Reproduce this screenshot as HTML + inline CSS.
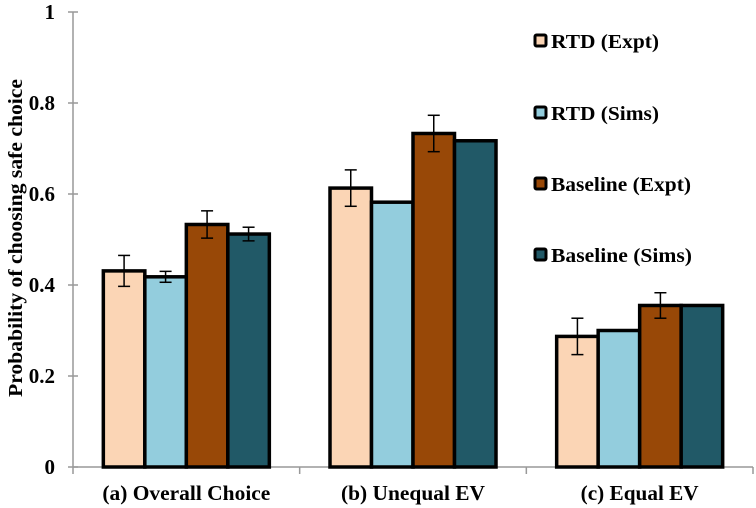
<!DOCTYPE html>
<html><head><meta charset="utf-8"><style>
html,body{margin:0;padding:0;background:#fff;}
svg{display:block;font-family:"Liberation Serif",serif;font-weight:bold;}
</style></head><body>
<svg id="chart" width="756" height="508"></svg>
<script>
const categories=["(a) Overall Choice","(b) Unequal EV","(c) Equal EV"];
const seriesNames=["RTD (Expt)","RTD (Sims)","Baseline (Expt)","Baseline (Sims)"];
const rtdExpt=[0.431,0.613,0.287];
const rtdSims=[0.418,0.582,0.300];
const baseExpt=[0.533,0.733,0.355];
const baseSims=[0.512,0.717,0.355];
const rtdExptErr=[0.034,0.04,0.04];
const rtdSimsErr=[0.012,0,0];
const baseExptErr=[0.03,0.04,0.028];
const baseSimsErr=[0.015,0,0];
const yTicks=[0,0.2,0.4,0.6,0.8,1];
const yTickLabels=["0","0.2","0.4","0.6","0.8","1"];

const colors=["#FBD5B5","#93CDDD","#984807","#215967"];
const series=[rtdExpt,rtdSims,baseExpt,baseSims];
const errs=[rtdExptErr,rtdSimsErr,baseExptErr,baseSimsErr];
const svg=document.getElementById('chart');
const NS="http://www.w3.org/2000/svg";
const x0=73,x1=753,y0=467,y1=12;
const yS=v=>y0-(y0-y1)*v;
const gw=(x1-x0)/categories.length, bw=41.5;
function mk(t,a,p){const e=document.createElementNS(NS,t);for(const k in a)e.setAttribute(k,a[k]);(p||svg).appendChild(e);return e;}

let ax=mk('line',{x1:x0,y1:y1,x2:x0,y2:y0,stroke:'#999','stroke-width':1.5});


let bx=mk('line',{x1:x0,y1:y0,x2:x1,y2:y0,stroke:'#999','stroke-width':1.5});


yTicks.forEach((v,i)=>{
  mk('line',{x1:x0-5,y1:yS(v),x2:x0+5,y2:yS(v),stroke:'#999','stroke-width':1.5});
  const t=mk('text',{x:55,y:yS(v)+7,'text-anchor':'end','font-size':21});
  t.textContent=yTickLabels[i];
  
  
});
for(let i=0;i<=categories.length;i++){
  mk('line',{x1:x0+gw*i,y1:y0,x2:x0+gw*i,y2:y0+7,stroke:'#999','stroke-width':1.5});
}
const yt=mk('text',{x:0,y:0,transform:'translate(22,238) rotate(-90)','text-anchor':'middle','font-size':20,textLength:318,lengthAdjust:'spacingAndGlyphs'});
yt.textContent="Probability of choosing safe choice";



const labelW=[168,144,118];
categories.forEach((c,ci)=>{
  const gx=x0+gw*ci+(gw-4*bw)/2;
  series.forEach((s,si)=>{
    const x=gx+si*bw, y=yS(s[ci]);
    const r=mk('rect',{x:x,y:y,width:bw,height:y0-y,fill:colors[si],stroke:'#000','stroke-width':3.5});
    
    
    const e=errs[si][ci];
    if(e>0){
      const cx=x+bw/2;
      mk('line',{x1:cx,y1:yS(s[ci]+e),x2:cx,y2:yS(s[ci]-e),stroke:'#000','stroke-width':1.5});
      mk('line',{x1:cx-6,y1:yS(s[ci]+e),x2:cx+6,y2:yS(s[ci]+e),stroke:'#000','stroke-width':1.5});
      mk('line',{x1:cx-6,y1:yS(s[ci]-e),x2:cx+6,y2:yS(s[ci]-e),stroke:'#000','stroke-width':1.5});
    }
  });
  const t=mk('text',{x:x0+gw*ci+gw/2,y:500,'text-anchor':'middle','font-size':21,textLength:labelW[ci],lengthAdjust:'spacingAndGlyphs'});
  t.textContent=c;
  
  
});
const ly=[41,113,184,255];
const legW=[108,108,140,141];
seriesNames.forEach((n,i)=>{
  const g=mk('g',{});
  
  
  mk('rect',{x:535,y:ly[i]-6,width:11,height:11,fill:colors[i],stroke:'#000','stroke-width':3,rx:1.5},g);
  const t=mk('text',{x:551,y:ly[i]+7,'font-size':20,textLength:legW[i],lengthAdjust:'spacingAndGlyphs'},g);
  t.textContent=n;
});
</script>
</body></html>
